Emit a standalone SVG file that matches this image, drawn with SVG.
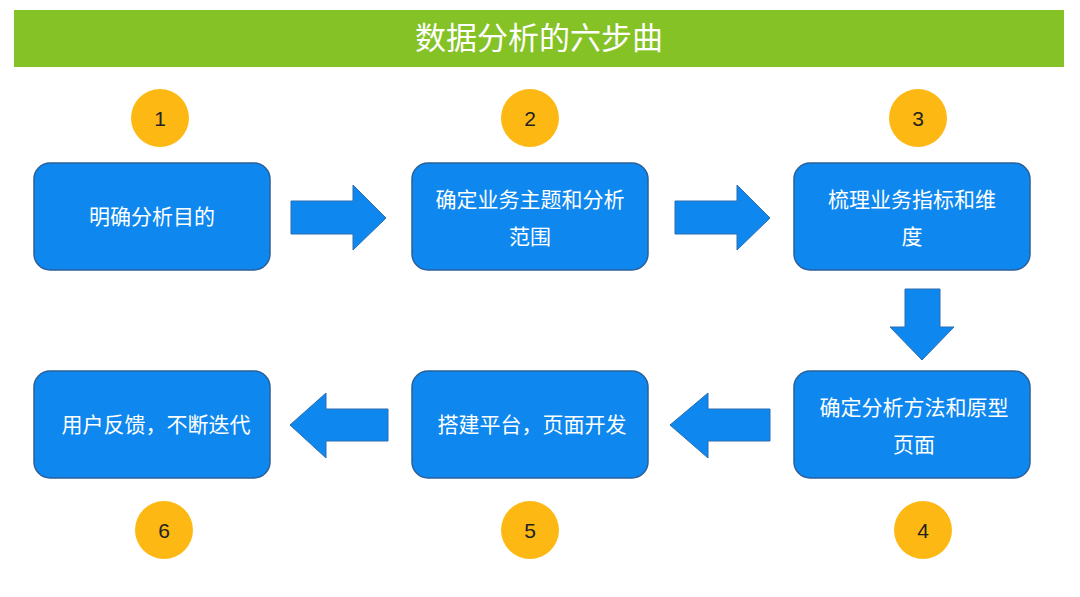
<svg xmlns="http://www.w3.org/2000/svg" width="1080" height="597" viewBox="0 0 1080 597">
<style>
.box{fill:#0e88ef;stroke:#2a5f9a;stroke-width:1.5}
.num{fill:#fdb813}
.arr{fill:#0e88ef;stroke:#2a6db0;stroke-width:1}
text{font-family:"Noto Sans CJK SC","Liberation Sans",sans-serif;text-anchor:middle}
.t{fill:#fff;font-size:21px}
.n{fill:#222;font-size:21px;font-family:"Liberation Sans",sans-serif}
</style>
<rect width="1080" height="597" fill="#fff"/>
<g id="title"><rect x="14" y="10" width="1050" height="57" fill="#84c225"/><text x="539" y="49" fill="#fff" font-size="31">数据分析的六步曲</text></g>
<g id="n1"><rect class="box" x="34" y="163" width="236" height="107" rx="16"/><text class="t" x="152" y="224">明确分析目的</text></g>
<g id="n2"><rect class="box" x="412" y="163" width="236" height="107" rx="16"/><text class="t" x="530" y="207">确定业务主题和分析</text><text class="t" x="530" y="244">范围</text></g>
<g id="n3"><rect class="box" x="794" y="163" width="236" height="107" rx="16"/><text class="t" x="912" y="207">梳理业务指标和维</text><text class="t" x="912" y="244">度</text></g>
<g id="n4"><rect class="box" x="794" y="371" width="236" height="107" rx="16"/><text class="t" x="914" y="415">确定分析方法和原型</text><text class="t" x="914" y="452">页面</text></g>
<g id="n5"><rect class="box" x="412" y="371" width="236" height="107" rx="16"/><text class="t" x="532" y="432">搭建平台，页面开发</text></g>
<g id="n6"><rect class="box" x="34" y="371" width="236" height="107" rx="16"/><text class="t" x="156" y="432">用户反馈，不断迭代</text></g>
<g id="badges">
<circle class="num" cx="160" cy="118" r="29"/><text class="n" x="160" y="126">1</text>
<circle class="num" cx="530" cy="118" r="29"/><text class="n" x="530" y="126">2</text>
<circle class="num" cx="918" cy="118" r="29"/><text class="n" x="918" y="126">3</text>
<circle class="num" cx="923" cy="530" r="29"/><text class="n" x="923" y="538">4</text>
<circle class="num" cx="530" cy="530" r="29"/><text class="n" x="530" y="538">5</text>
<circle class="num" cx="164" cy="530" r="29"/><text class="n" x="164" y="538">6</text>
</g>
<g id="connectors">
<polygon class="arr" points="291,201 353,201 353,185 386,218 353,250 353,234 291,234"/>
<polygon class="arr" points="675,201 737,201 737,185 770,218 737,250 737,234 675,234"/>
<polygon class="arr" points="905,289 940,289 940,327 954,327 922,360 890,327 905,327"/>
<polygon class="arr" points="770,409 708,409 708,393 670,425 708,458 708,441 770,441"/>
<polygon class="arr" points="388,409 326,409 326,393 290,425 326,458 326,441 388,441"/>
</g>
</svg>
